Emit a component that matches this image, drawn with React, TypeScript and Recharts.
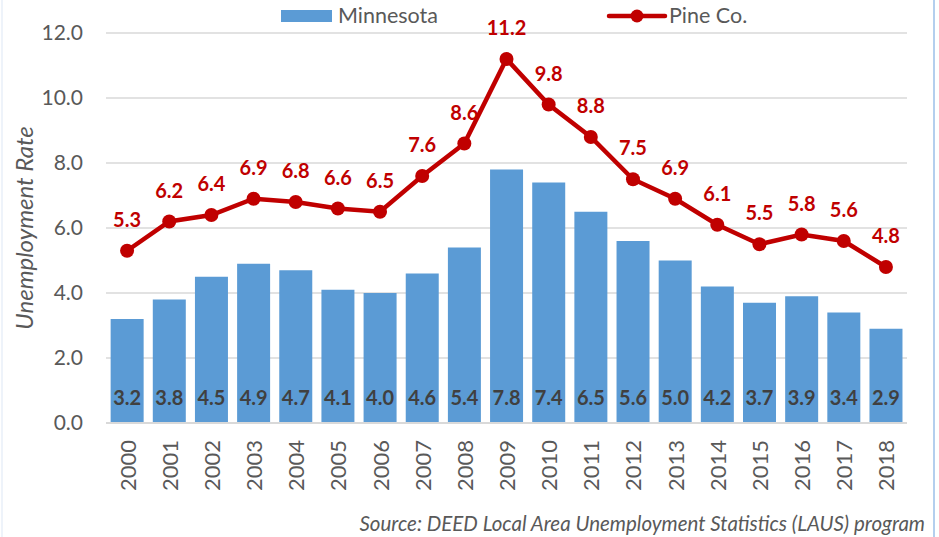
import React from 'react';
import { ComposedChart, Bar, Line, XAxis, YAxis, CartesianGrid, LabelList, Legend } from 'recharts';

const years = ['2000','2001','2002','2003','2004','2005','2006','2007','2008','2009','2010','2011','2012','2013','2014','2015','2016','2017','2018'];
const minnesota = [3.2,3.8,4.5,4.9,4.7,4.1,4.0,4.6,5.4,7.8,7.4,6.5,5.6,5.0,4.2,3.7,3.9,3.4,2.9];
const pineCo = [5.3,6.2,6.4,6.9,6.8,6.6,6.5,7.6,8.6,11.2,9.8,8.8,7.5,6.9,6.1,5.5,5.8,5.6,4.8];
const yTicks = [0, 2, 4, 6, 8, 10, 12];

const data = years.map((y, i) => ({ year: y, mn: minnesota[i], pine: pineCo[i] }));

const FONT = 'Lato, "Liberation Sans", sans-serif';
const GREY = '#595959';
const BLUE = '#5B9BD5';
const RED = '#C00000';

const XTick = (props: any) => {
  const { x, y, payload } = props;
  return (
    <text
      x={x}
      y={y}
      transform={`rotate(-90 ${x} ${y})`}
      textAnchor="end"
      dominantBaseline="central"
      fill={GREY}
      fontFamily={FONT}
      fontSize={22}
    >
      {payload.value}
    </text>
  );
};

const LegendContent = () => (
  <div style={{ position: 'relative', width: 939, height: 30, fontFamily: FONT, fontSize: 21.5, color: GREY }}>
    <div style={{ position: 'absolute', left: 281, top: 10, width: 51, height: 12, background: BLUE }} />
    <div style={{ position: 'absolute', left: 338, top: 2, lineHeight: '26px' }}>Minnesota</div>
    <svg style={{ position: 'absolute', left: 606, top: 4 }} width={62} height={24}>
      <line x1={3} y1={12} x2={59} y2={12} stroke={RED} strokeWidth={4.5} strokeLinecap="round" />
      <circle cx={31} cy={12} r={6.5} fill={RED} />
    </svg>
    <div style={{ position: 'absolute', left: 669, top: 2, lineHeight: '26px' }}>Pine Co.</div>
  </div>
);

export default function App() {
  return (
    <div style={{ position: 'absolute', left: 0, top: 0, width: 939, height: 537, background: '#fff', overflow: 'hidden' }}>
      <ComposedChart
        width={939}
        height={537}
        data={data}
        margin={{ top: 33, right: 32, bottom: 0, left: 0 }}
        barCategoryGap="11%"
      >
        <CartesianGrid vertical={false} stroke="#D9D9D9" strokeWidth={1.5} />
        <XAxis
          dataKey="year"
          height={114}
          axisLine={{ stroke: '#D9D9D9', strokeWidth: 2 }}
          tickLine={false}
          tickSize={0}
          tickMargin={17}
          interval={0}
          tick={<XTick />}
        />
        <YAxis
          width={106}
          domain={[0, 12]}
          ticks={yTicks}
          tickFormatter={(v: number) => v.toFixed(1)}
          axisLine={false}
          tickLine={false}
          tickSize={0}
          tickMargin={23}
          tick={{ fill: GREY, fontFamily: FONT, fontSize: 21 }}
        />
        <Legend
          verticalAlign="middle"
          align="center"
          layout="horizontal"
          wrapperStyle={{ top: 0, left: 0, width: 939, height: 30 }}
          content={<LegendContent />}
        />
        <Bar dataKey="mn" fill={BLUE} isAnimationActive={false}>
          <LabelList
            dataKey="mn"
            position="insideBottom"
            offset={18}
            formatter={(v: number) => v.toFixed(1)}
            fill="#404040"
            fontFamily={FONT}
            fontSize={20}
            fontWeight="bold"
          />
        </Bar>
        <Line
          dataKey="pine"
          stroke={RED}
          strokeWidth={4.5}
          dot={{ r: 7, fill: RED, stroke: 'none' }}
          activeDot={false}
          isAnimationActive={false}
        >
          <LabelList
            dataKey="pine"
            position="top"
            offset={24}
            formatter={(v: number) => v.toFixed(1)}
            fill={RED}
            fontFamily={FONT}
            fontSize={20}
            fontWeight="bold"
          />
        </Line>
      </ComposedChart>
      <svg style={{ position: 'absolute', left: 0, top: 0, pointerEvents: 'none' }} width={939} height={537}>
        <text
          x={23}
          y={228}
          transform="rotate(-90 23 228)"
          textAnchor="middle"
          dominantBaseline="central"
          fill={GREY}
          fontFamily={FONT}
          fontSize={24}
          fontStyle="italic"
        >
          Unemployment Rate
        </text>
        <text
          x={925}
          y={523}
          textAnchor="end"
          dominantBaseline="central"
          fill={GREY}
          fontFamily={FONT}
          fontSize={20.5}
          fontStyle="italic"
        >
          Source: DEED Local Area Unemployment Statistics (LAUS) program
        </text>
      </svg>
      <div style={{ position: 'absolute', left: 1, top: 0, width: 2, height: 537, background: '#EEF3FA' }} />
      <div style={{ position: 'absolute', left: 933, top: 0, width: 2, height: 537, background: '#B4CFEE' }} />
    </div>
  );
}
